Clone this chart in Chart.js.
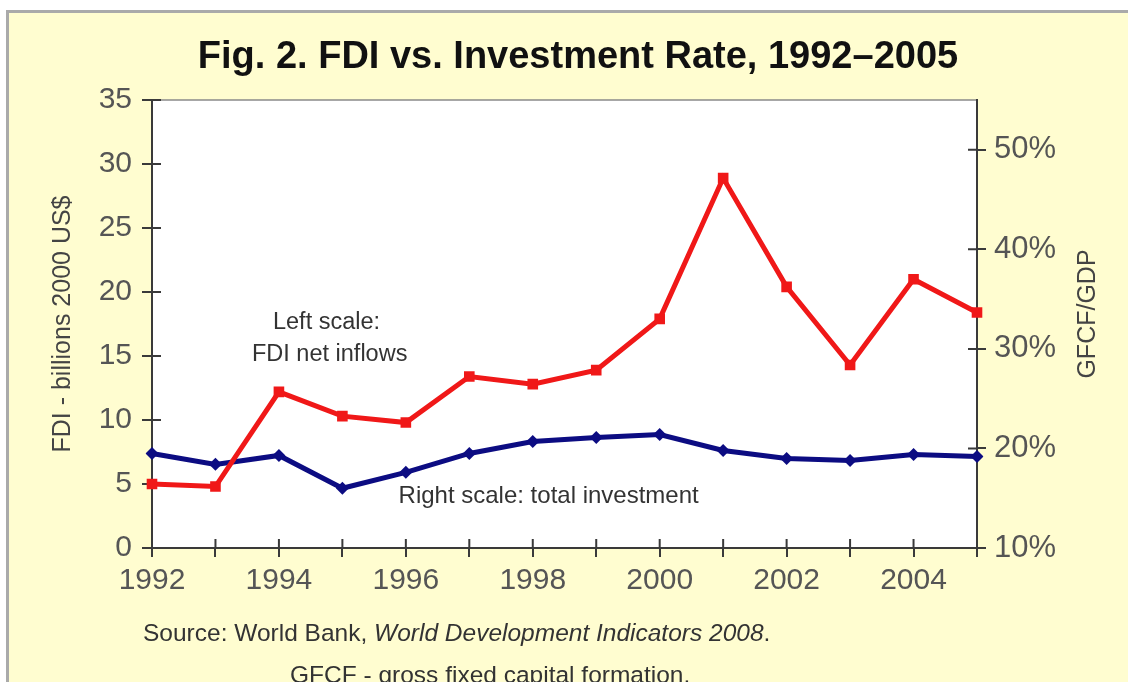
<!DOCTYPE html>
<html>
<head>
<meta charset="utf-8">
<script src="https://cdn.jsdelivr.net/npm/chart.js@4.4.1/dist/chart.umd.min.js"></script>
<style>
  html, body { margin: 0; padding: 0; background: #ffffff; width: 1128px; height: 682px; overflow: hidden; }
  #panel { position: absolute; left: 6px; top: 10px; width: 1130px; height: 680px;
           background: #fffdd0; border-top: 3px solid #aaaaaa; border-left: 3px solid #aaaaaa; box-sizing: border-box; }
  #chart { position: absolute; left: 0; top: 0; }
  .note { position: absolute; font-family: 'Liberation Sans', Arial, sans-serif; font-size: 24.5px; color: #333333; white-space: nowrap; }
</style>
</head>
<body>
<div id="panel"></div>
<canvas id="chart" width="1128" height="682"></canvas>
<div class="note" style="left:143px; top:619px;">Source: World Bank, <i>World Development Indicators 2008</i>.</div>
<div class="note" style="left:290px; top:661px;">GFCF - gross fixed capital formation.</div>
<script>
// Years on the horizontal axis
const years = ['1992', '1993', '1994', '1995', '1996', '1997', '1998', '1999',
               '2000', '2001', '2002', '2003', '2004', '2005'];
// FDI net inflows, billions of 2000 US$ (left scale)
const fdiInflows = [5.0, 4.8, 12.2, 10.3, 9.8, 13.4, 12.8, 13.9, 17.9, 28.9, 20.4, 14.3, 21.0, 18.4];
// Gross fixed capital formation as % of GDP (right scale)
const investmentRate = [19.5, 18.4, 19.3, 16.0, 17.6, 19.5, 20.7, 21.1, 21.4, 19.8, 19.0, 18.8, 19.4, 19.2];
// Tick values
const leftTicks = [0, 5, 10, 15, 20, 25, 30, 35];
const rightTicks = [10, 20, 30, 40, 50];

const FONT = "'Liberation Sans', Arial, sans-serif";
const AXIS = '#3a3a3a';
const TICK_TEXT = '#555555';

// White plot background, top frame line, tick marks across the axis lines, titles and notes
const plotFrame = {
  id: 'plotFrame',
  beforeDraw(chart) {
    const { ctx, chartArea: a } = chart;
    ctx.save();
    ctx.fillStyle = '#ffffff';
    ctx.fillRect(a.left, a.top, a.right - a.left, a.bottom - a.top);
    ctx.strokeStyle = '#8a8a8a';
    ctx.lineWidth = 1.5;
    ctx.beginPath();
    ctx.moveTo(a.left, a.top);
    ctx.lineTo(a.right, a.top);
    ctx.stroke();
    ctx.restore();
  },
  beforeDatasetsDraw(chart) {
    const { ctx, chartArea: a, scales } = chart;
    const len = 9;
    ctx.save();
    ctx.strokeStyle = AXIS;
    ctx.lineWidth = 2;
    ctx.beginPath();
    scales.x.ticks.forEach((t, i) => {
      const px = scales.x.getPixelForTick(i);
      ctx.moveTo(px, a.bottom);
      ctx.lineTo(px, a.bottom - len);
    });
    scales.y.ticks.forEach((t, i) => {
      const py = scales.y.getPixelForTick(i);
      ctx.moveTo(a.left, py);
      ctx.lineTo(a.left + len, py);
    });
    scales.y1.ticks.forEach((t, i) => {
      const py = scales.y1.getPixelForTick(i);
      ctx.moveTo(a.right, py);
      ctx.lineTo(a.right - len, py);
    });
    ctx.stroke();
    ctx.restore();
  },
  afterDraw(chart) {
    const { ctx, scales, chartArea: a } = chart;
    ctx.save();
    ctx.fillStyle = '#111111';
    ctx.textAlign = 'center';
    ctx.textBaseline = 'middle';
    ctx.font = 'bold 38px ' + FONT;
    ctx.fillText('Fig. 2. FDI vs. Investment Rate, 1992\u20132005', 578, 58);
    // Right-hand axis title, reading upward like the left one
    ctx.save();
    ctx.translate(1088, (a.top + a.bottom) / 2 - 10);
    ctx.rotate(-Math.PI / 2);
    ctx.fillStyle = '#444444';
    ctx.font = '25px ' + FONT;
    ctx.fillText('GFCF/GDP', 0, 0);
    ctx.restore();
    // In-plot notes anchored to the data scales
    ctx.fillStyle = '#333333';
    ctx.font = '23.5px ' + FONT;
    ctx.fillText('Left scale:', scales.x.getPixelForValue(2.75), scales.y.getPixelForValue(17.6));
    ctx.fillText('FDI net inflows', scales.x.getPixelForValue(2.8), scales.y.getPixelForValue(15.1));
    ctx.font = '24px ' + FONT;
    ctx.fillText('Right scale: total investment', scales.x.getPixelForValue(6.25), scales.y.getPixelForValue(4.0));
    ctx.restore();
  }
};

new Chart(document.getElementById('chart'), {
  type: 'line',
  data: {
    labels: years,
    datasets: [
      {
        label: 'FDI net inflows',
        data: fdiInflows,
        yAxisID: 'y',
        borderColor: '#f01818',
        backgroundColor: '#f01818',
        borderWidth: 5,
        pointStyle: 'rect',
        pointRadius: 7.5,
        pointBorderWidth: 0,
        tension: 0,
        order: 1
      },
      {
        label: 'GFCF/GDP',
        data: investmentRate,
        yAxisID: 'y1',
        borderColor: '#0c0c82',
        backgroundColor: '#0c0c82',
        borderWidth: 5,
        pointStyle: 'rectRot',
        pointRadius: 6.5,
        pointBorderWidth: 0,
        tension: 0,
        order: 2
      }
    ]
  },
  options: {
    responsive: false,
    animation: false,
    devicePixelRatio: 1,
    layout: { padding: { top: 100, left: 0, right: 0, bottom: 0 } },
    plugins: { legend: { display: false }, tooltip: { enabled: false }, title: { display: false } },
    scales: {
      x: {
        type: 'category',
        offset: false,
        border: { display: true, color: AXIS, width: 2 },
        grid: { drawOnChartArea: false, drawTicks: true, tickLength: 9, color: AXIS, lineWidth: 2 },
        ticks: {
          autoSkip: false, maxRotation: 0, padding: 6, color: TICK_TEXT,
          font: { family: FONT, size: 30 },
          callback: (v, i) => (i % 2 === 0 ? years[i] : '')
        },
        afterFit: s => { s.height = 134; }
      },
      y: {
        position: 'left',
        min: 0, max: 35,
        afterBuildTicks: s => { s.ticks = leftTicks.map(v => ({ value: v })); },
        border: { display: true, color: AXIS, width: 2 },
        grid: { drawOnChartArea: false, drawTicks: true, tickLength: 10, color: AXIS, lineWidth: 2 },
        ticks: { padding: 10, color: TICK_TEXT, font: { family: FONT, size: 30 } },
        title: {
          display: true, text: 'FDI - billions 2000 US$', color: '#444444',
          font: { family: FONT, size: 25 }, padding: { top: 48, bottom: 0 }
        },
        afterFit: s => { s.width = 152; }
      },
      y1: {
        position: 'right',
        min: 10, max: 55,
        afterBuildTicks: s => { s.ticks = rightTicks.map(v => ({ value: v })); },
        border: { display: true, color: AXIS, width: 2 },
        grid: { drawOnChartArea: false, drawTicks: true, tickLength: 9, color: AXIS, lineWidth: 2 },
        ticks: { padding: 8, color: TICK_TEXT, font: { family: FONT, size: 31 }, callback: v => v + '%' },
        afterFit: s => { s.width = 151; }
      }
    }
  },
  plugins: [plotFrame]
});
</script>
</body>
</html>
